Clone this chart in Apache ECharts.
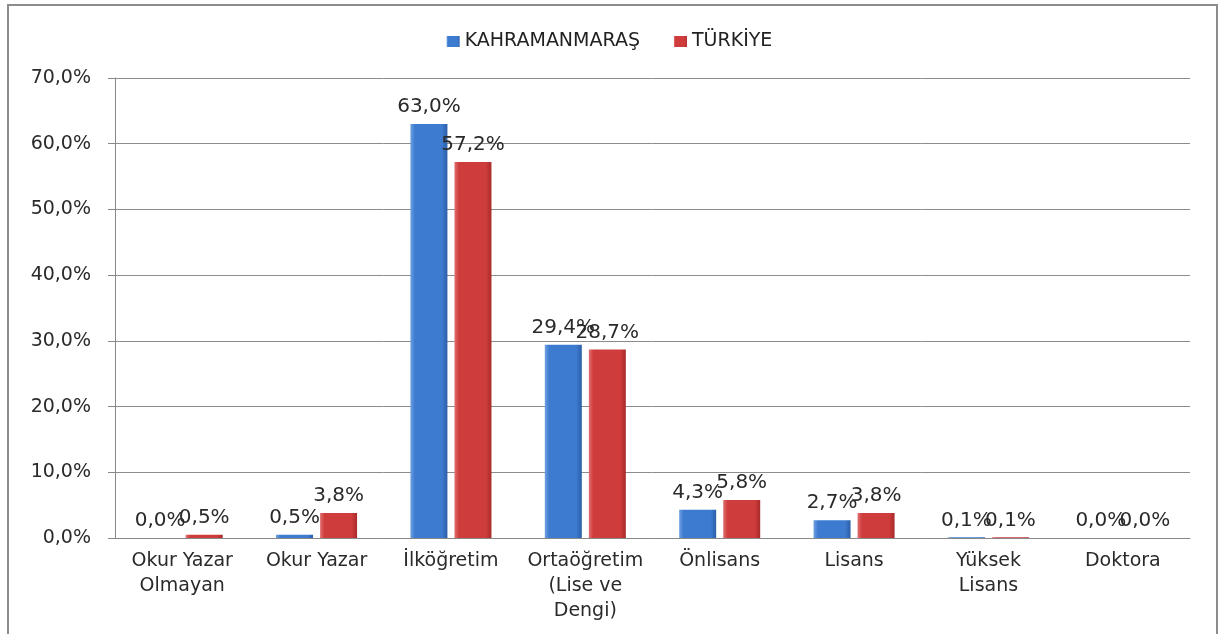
<!DOCTYPE html>
<html>
<head>
<meta charset="utf-8">
<script src="https://cdn.jsdelivr.net/npm/echarts@6/dist/echarts.min.js"></script>
<style>
  html, body { margin: 0; padding: 0; background: #fff; }
  #chart { width: 1219px; height: 634px; }
</style>
</head>
<body>
<div id="chart"></div>
<script>
// kategoriler ve seriler
var categories = ['Okur Yazar\nOlmayan', 'Okur Yazar', 'İlköğretim', 'Ortaöğretim\n(Lise ve\nDengi)', 'Önlisans', 'Lisans', 'Yüksek\nLisans', 'Doktora'];
var kahramanmaras = [0.0, 0.5, 63.0, 29.4, 4.3, 2.7, 0.1, 0.0];
var turkiye = [0.5, 3.8, 57.2, 28.7, 5.8, 3.8, 0.1, 0.0];
var seriesNames = ['KAHRAMANMARAŞ', 'TÜRKİYE'];

var chart = echarts.init(document.getElementById('chart'));
var FONT = 'DejaVu Sans';

function pct(v) {
    return v.toFixed(1).replace('.', ',') + '%';
}

// bevel benzeri yatay gradyan
function barColor(light, mid, dark) {
    return new echarts.graphic.LinearGradient(0, 0, 1, 0, [
        { offset: 0, color: light },
        { offset: 0.12, color: mid },
        { offset: 0.85, color: mid },
        { offset: 1, color: dark }
    ]);
}

var labelStyle = {
    show: true,
    position: 'top',
    distance: 7,
    fontFamily: FONT,
    fontSize: 20,
    color: '#2a2a2a',
    formatter: function (p) { return pct(p.value); }
};

var option = {
    animation: false,
    textStyle: { fontFamily: FONT },
    graphic: [{
        type: 'rect',
        shape: { x: 8, y: 5, width: 1209, height: 640 },
        style: { fill: 'none', stroke: '#8c8c8c', lineWidth: 2 },
        silent: true
    }],
    legend: {
        top: 27,
        left: 'center',
        icon: 'rect',
        itemWidth: 13,
        itemHeight: 11,
        itemGap: 34,
        textStyle: { fontSize: 19, color: '#222', fontFamily: FONT },
        data: seriesNames
    },
    grid: { left: 115, right: 29, top: 78, bottom: 96 },
    xAxis: {
        type: 'category',
        data: categories,
        axisLine: { lineStyle: { color: '#888' } },
        axisTick: { show: false },
        axisLabel: {
            interval: 0,
            margin: 11,
            fontSize: 19,
            lineHeight: 25,
            color: '#2a2a2a',
            fontFamily: FONT
        }
    },
    yAxis: {
        type: 'value',
        min: 0,
        max: 70,
        interval: 10,
        axisLine: { show: true, lineStyle: { color: '#888' } },
        axisTick: { show: true, inside: false, length: 7, lineStyle: { color: '#888' } },
        splitLine: { lineStyle: { color: '#8c8c8c' } },
        axisLabel: {
            margin: 24,
            fontSize: 19,
            color: '#2a2a2a',
            fontFamily: FONT,
            formatter: function (v) { return pct(v); }
        }
    },
    series: [
        {
            name: seriesNames[0],
            type: 'bar',
            barWidth: 37,
            barGap: '19%',
            data: kahramanmaras,
            itemStyle: { color: barColor('#6fa0e0', '#3d7bd0', '#2a5ea8') },
            label: labelStyle
        },
        {
            name: seriesNames[1],
            type: 'bar',
            barWidth: 37,
            data: turkiye,
            itemStyle: { color: barColor('#e07070', '#cf3c3c', '#a82a2a') },
            label: labelStyle
        }
    ]
};
chart.setOption(option);
</script>
</body>
</html>
